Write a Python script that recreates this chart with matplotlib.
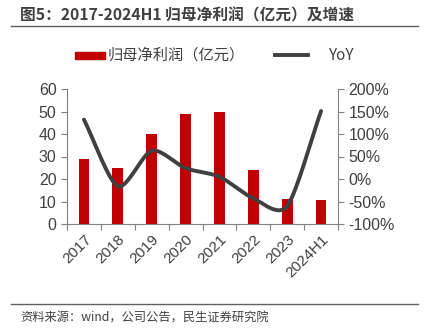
import numpy as np
import matplotlib
matplotlib.use('Agg')
import matplotlib.pyplot as plt
from matplotlib.lines import Line2D
from matplotlib.patches import Rectangle

plt.rcParams['font.family'] = ['Liberation Sans', 'Noto Sans CJK SC', 'DejaVu Sans']

# data
years = ['2017', '2018', '2019', '2020', '2021', '2022', '2023', '2024H1']
profit = [29.0, 25.0, 40.0, 48.8, 50.0, 24.0, 11.0, 10.8]   # 亿元
yoy = [132, -16, 63, 24, 5, -43, -60, 151]                    # %

def smooth(x, y, n=30):
    # Catmull-Rom style curve through the points (like Excel's smoothed line)
    x = np.asarray(x, float); y = np.asarray(y, float)
    px = np.concatenate([[2*x[0]-x[1]], x, [2*x[-1]-x[-2]]])
    py = np.concatenate([[2*y[0]-y[1]], y, [2*y[-1]-y[-2]]])
    xs, ys = [], []
    for i in range(1, len(px)-2):
        t = np.linspace(0, 1, n)
        for p, out in ((px, xs), (py, ys)):
            p0, p1, p2, p3 = p[i-1], p[i], p[i+1], p[i+2]
            m1 = (p2 - p0) / 2 * 0.8
            m2 = (p3 - p1) / 2 * 0.8
            h00 = 2*t**3 - 3*t**2 + 1
            h10 = t**3 - 2*t**2 + t
            h01 = -2*t**3 + 3*t**2
            h11 = t**3 - t**2
            out.extend(h00*p1 + h10*m1 + h01*p2 + h11*m2)
    return np.array(xs), np.array(ys)

red = '#C00000'
grey = '#404040'
txt = '#404040'
W, H = 428, 335

fig = plt.figure(figsize=(4.28, 3.35), dpi=100)
ax = fig.add_axes([67/W, 1-224/H, (338-67)/W, (224-89)/H])
ax2 = ax.twinx()

x = np.arange(len(years))
ax.bar(x, profit, width=0.32, color=red, zorder=2)
sx, sy = smooth(x, yoy)
ax2.plot(sx, sy, color=grey, lw=2.8, solid_capstyle='round', zorder=3)

ax.set_xlim(-0.5, len(years)-0.5)
ax.set_ylim(0, 60)
ax.set_yticks(range(0, 61, 10))
ax2.set_ylim(-100, 200)
ax2.set_yticks(range(-100, 201, 50))
ax2.set_yticklabels([f'{v}%' for v in range(-100, 201, 50)])

ax.set_xticks(np.arange(-0.5, len(years), 1), minor=False)
ax.set_xticklabels([])
ax.set_xticks(x, minor=True)
ax.set_xticklabels(years, minor=True, rotation=45, ha='right', rotation_mode='anchor',
                   fontsize=11, color=txt)
ax.tick_params(axis='x', which='minor', length=0, pad=6)
ax.tick_params(axis='x', which='major', length=4, color='#808080', direction='out')

for a in (ax, ax2):
    a.spines['top'].set_visible(False)
    a.spines['left'].set_color('#808080')
    a.spines['right'].set_color('#808080')
    a.spines['bottom'].set_color('#808080')
    a.tick_params(axis='y', labelsize=11.5, colors=txt, length=4, direction='out')
    a.tick_params(axis='y', color='#808080')
ax.spines['right'].set_visible(False)
ax2.spines['left'].set_visible(False)
ax2.spines['bottom'].set_visible(False)

# legend drawn by hand to match spacing
ly = 1 - 55/H
fig.add_artist(Rectangle((75/W, ly - 3.5/H), 30/W, 7/H, color=red, transform=fig.transFigure))
fig.text(108/W, ly, '归母净利润（亿元）', fontsize=11, color=txt, va='center',
         family=['Noto Sans CJK SC'])
fig.add_artist(Line2D([275/W, 308/W], [ly, ly], color=grey, lw=2.8))
fig.text(329/W, ly, 'YoY', fontsize=11, color=txt, va='center', family=['Noto Sans CJK SC'])

fig.text(20/W, 1-15/H, '图5：2017-2024H1 归母净利润（亿元）及增速', fontsize=11.3, fontweight='bold',
         color=txt, va='center', family=['Noto Sans CJK SC'])
fig.add_artist(Line2D([11/W, 418/W], [1-26/H]*2, color='#606060', lw=1))
fig.add_artist(Line2D([11/W, 418/W], [1-304/H]*2, color='#606060', lw=1))
fig.text(20/W, 1-318/H, '资料来源：wind，公司公告，民生证券研究院', fontsize=8.8, color=txt,
         va='center', family=['Noto Sans CJK SC'])

fig.savefig('out.png', dpi=100)
